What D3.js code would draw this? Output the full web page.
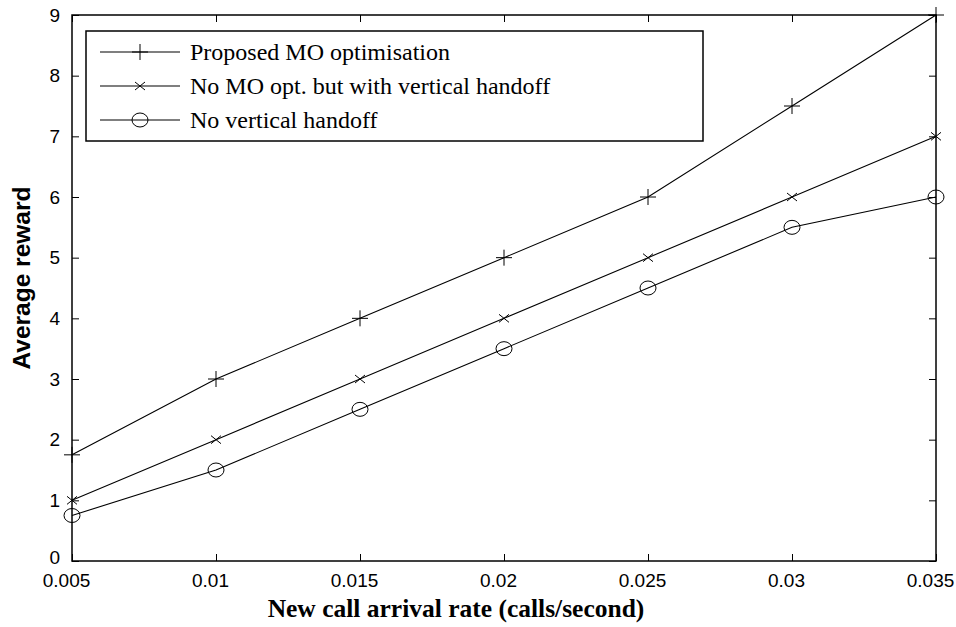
<!DOCTYPE html>
<html>
<head>
<meta charset="utf-8">
<script src="https://cdn.jsdelivr.net/npm/d3@7"></script>
<style>
  body { margin: 0; background: #fff; }
</style>
</head>
<body>
<div class="graphics"></div>
<script>
// data
var rates = [0.005, 0.01, 0.015, 0.02, 0.025, 0.03, 0.035];
var proposed = [1.75, 3, 4, 5, 6, 7.5, 9];
var noMO = [1, 2, 3, 4, 5, 6, 7];
var noHandoff = [0.75, 1.5, 2.5, 3.5, 4.5, 5.5, 6];
var xTicks = [0.005, 0.01, 0.015, 0.02, 0.025, 0.03, 0.035];
var yTicks = [0, 1, 2, 3, 4, 5, 6, 7, 8, 9];
var seriesNames = ["Proposed MO optimisation", "No MO opt. but with vertical handoff", "No vertical handoff"];
var markers = ["plus", "cross", "circle"];

function chart() {
    var W = 956, H = 627;
    var margin = {top: 15, right: 20, bottom: 66, left: 72},
        width = W - margin.left - margin.right,
        height = H - margin.top - margin.bottom;

    var svg = d3.select(".graphics")
        .append("svg")
        .attr("width", W)
        .attr("height", H);
    var g = svg.append("g")
        .attr("transform", "translate(" + margin.left + "," + margin.top + ")");

    var x = d3.scaleLinear().domain([0.005, 0.035]).range([0, width]);
    var y = d3.scaleLinear().domain([0, 9]).range([height, 0]);

    // frame
    g.append("rect")
        .attr("width", width).attr("height", height)
        .attr("fill", "none").attr("stroke", "#000").attr("stroke-width", 1.5);

    // axes, ticks pointing in
    var tickFont = "Liberation Sans, Arial, sans-serif";
    var xb = g.append("g").attr("transform", "translate(0," + height + ")")
        .call(d3.axisBottom(x).tickValues(xTicks).tickFormat(function(d){ return String(+d.toFixed(3)); })
            .tickSizeInner(-7).tickSizeOuter(0).tickPadding(16));
    var yl = g.append("g")
        .call(d3.axisLeft(y).tickValues(yTicks).tickFormat(d3.format("d"))
            .tickSizeInner(-7).tickSizeOuter(0).tickPadding(12));
    var xt = g.append("g")
        .call(d3.axisTop(x).tickValues(xTicks).tickFormat("").tickSizeInner(-7).tickSizeOuter(0));
    var yr = g.append("g").attr("transform", "translate(" + width + ",0)")
        .call(d3.axisRight(y).tickValues(yTicks).tickFormat("").tickSizeInner(-7).tickSizeOuter(0));
    [xb, yl, xt, yr].forEach(function(a) {
        a.select(".domain").remove();
        a.selectAll("line").attr("stroke", "#000").attr("stroke-width", 1);
        a.selectAll("text").attr("fill", "#000")
            .style("font-family", tickFont).style("font-size", "19px");
    });
    xb.selectAll("text").attr("dy", "0.55em").attr("dx", -6);
    // lift the 0 label a touch so it clears 0.005
    yl.selectAll(".tick").filter(function(d) { return d === 0; })
        .select("text").attr("dy", "0.15em");

    // titles
    svg.append("text")
        .attr("x", 456).attr("y", 617)
        .attr("text-anchor", "middle")
        .style("font-family", "Liberation Serif, Times New Roman, serif")
        .style("font-weight", "bold").style("font-size", "25.5px")
        .text("New call arrival rate (calls/second)");
    svg.append("text")
        .attr("transform", "translate(30,278) rotate(-90)")
        .attr("text-anchor", "middle")
        .style("font-family", tickFont)
        .style("font-weight", "bold").style("font-size", "24.5px")
        .text("Average reward");

    var all = [proposed, noMO, noHandoff];
    var line = d3.line()
        .x(function(d, i) { return x(rates[i]); })
        .y(function(d) { return y(d); });

    function drawMarker(sel, type) {
        if (type === "plus") {
            sel.append("path").attr("d", "M-8,0H8M0,-8V8");
        } else if (type === "cross") {
            sel.append("path").attr("d", "M-5,-4L5,4M-5,4L5,-4");
        } else {
            sel.append("ellipse").attr("rx", 8).attr("ry", 7).attr("fill", "none");
        }
        sel.selectAll("path,ellipse").attr("stroke", "#000").attr("stroke-width", 1).attr("fill", "none");
    }

    all.forEach(function(vals, k) {
        g.append("path")
            .datum(vals)
            .attr("d", line)
            .attr("fill", "none").attr("stroke", "#000").attr("stroke-width", 1.1);
        g.selectAll(".m" + k)
            .data(vals)
            .enter()
            .append("g")
            .attr("class", "m" + k)
            .attr("transform", function(d, i) { return "translate(" + x(rates[i]) + "," + y(d) + ")"; })
            .each(function() { drawMarker(d3.select(this), markers[k]); });
    });

    // legend
    var lg = svg.append("g").attr("transform", "translate(86,31)");
    lg.append("rect").attr("width", 617).attr("height", 110)
        .attr("fill", "#fff").attr("stroke", "#000").attr("stroke-width", 1.5);
    seriesNames.forEach(function(name, k) {
        var row = lg.append("g").attr("transform", "translate(0," + (21 + k * 34) + ")");
        row.append("line").attr("x1", 14).attr("x2", 94)
            .attr("stroke", "#000").attr("stroke-width", 1.1);
        drawMarker(row.append("g").attr("transform", "translate(54,0)"), markers[k]);
        row.append("text").attr("x", 104).attr("dy", "0.35em")
            .style("font-family", "Liberation Serif, Times New Roman, serif")
            .style("font-size", "24px")
            .text(name);
    });
}

chart();
</script>
</body>
</html>
